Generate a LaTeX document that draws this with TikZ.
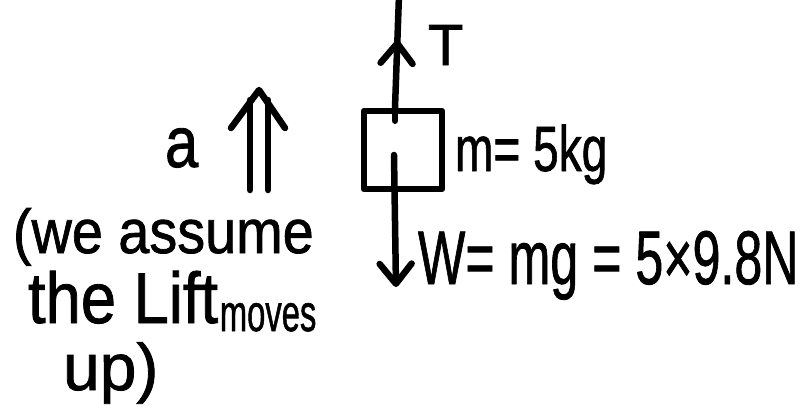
\documentclass[tikz,border=0pt]{standalone}
\usepackage{fontspec}
\setmainfont{Liberation Sans}[BoldFont={Liberation Sans}, BoldFeatures={FakeBold=1.2}]
\usetikzlibrary{arrows.meta,decorations.markings}
\begin{document}
\begin{tikzpicture}[x=1pt,y=-1pt,
  ink/.style={line width=6.5pt, line cap=round, line join=round},
  lbl/.style={anchor=base west, inner sep=0pt, outer sep=0pt, font=\bfseries},
  barb/.tip={Straight Barb[length=20pt,width=32pt,round]}]
\useasboundingbox[fill=white] (0,0) rectangle (807,416);
% mass block
\node[draw, ink, minimum width=78pt, minimum height=78pt, inner sep=0pt] (mass) at (403,150) {};
% tension
\coordinate (Ttop) at (399,-5);
\draw[ink, postaction={decorate}, decoration={markings, mark=at position 0.6 with {\arrow{barb}}}]
  ([xshift=-8pt]mass.north) -- (Ttop);
\draw[ink] ([xshift=-8pt]mass.north) -- ++(0,13);
% weight
\coordinate (Wtip) at (396,287);
\draw[ink, -barb] ([xshift=-9pt,yshift=-5pt]mass.center) -- (Wtip);
% acceleration double arrow
\coordinate (aL1) at (250,190); \coordinate (aL2) at (250,100);
\coordinate (aR1) at (268,190); \coordinate (aR2) at (268,100);
\coordinate (aTip) at (259,90);
\draw[ink] (aL1) -- (aL2);
\draw[ink] (aR1) -- (aR2);
\draw[ink] (231,128) -- (aTip) -- (285,128);
% labels
\node[lbl] (T) at (428,65) {\fontsize{58}{58}\selectfont T};
\node[lbl] (m) at (455,171) {\scalebox{0.72}[1]{\fontsize{64}{64}\selectfont m= 5kg}};
\node[lbl] (W) at (418,284) {\scalebox{0.66}[1]{\fontsize{76}{76}\selectfont W= mg = 5×9.8N}};
\node[lbl] (a) at (165,167) {\scalebox{0.83}[1]{\fontsize{72}{72}\selectfont a}};
\node[lbl] (n1) at (13,253) {\scalebox{0.9}[1]{\fontsize{62}{62}\selectfont (we assume}};
\node[lbl] (n2) at (28,323) {\scalebox{0.88}[1]{\fontsize{72}{72}\selectfont the Lift}\,\raisebox{-8pt}{\scalebox{0.63}[1]{\fontsize{52}{52}\selectfont moves}}};
\node[lbl] (n3) at (63,390) {\fontsize{66}{66}\selectfont up)};
\end{tikzpicture}
\end{document}
